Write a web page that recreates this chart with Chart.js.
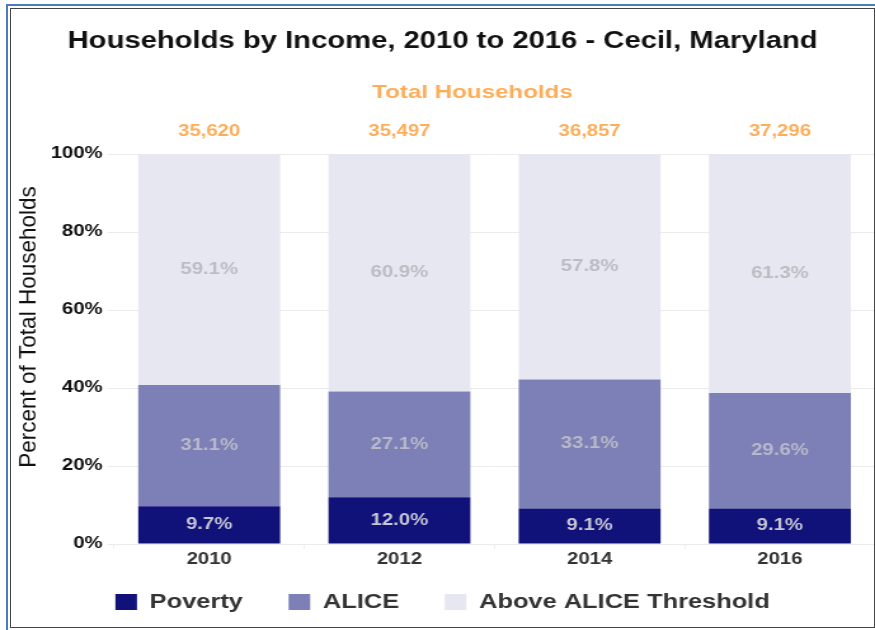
<!DOCTYPE html>
<html>
<head>
<meta charset="utf-8">
<script src="https://cdn.jsdelivr.net/npm/chart.js@4"></script>
<style>
  html, body { margin: 0; padding: 0; background: #fff; }
  #wrap { width: 875px; height: 630px; position: relative; overflow: hidden; }
  /* the source picture is stretched sideways, so the canvas is too */
  #incomeChart { position: absolute; left: 0; top: 0; width: 875px; height: 630px; }
  .frame-outer {
    position: absolute; left: 6px; top: 4px; width: 869px; height: 626px;
    box-sizing: border-box; border-left: 2px solid #4A7EBB; border-top: 2px solid #4A7EBB;
  }
  .frame-inner {
    position: absolute; left: 10px; top: 8px; width: 865px; height: 620px;
    box-sizing: border-box; border: 1px solid #444;
  }
</style>
</head>
<body>
<div id="wrap">
  <canvas id="incomeChart" width="689" height="630" style="width:875px;height:630px"></canvas>
  <div class="frame-outer"></div>
  <div class="frame-inner"></div>
</div>
<script>
// chart data
const years = ['2010', '2012', '2014', '2016'];
const totals = [35620, 35497, 36857, 37296];
const poverty = [9.7, 12.0, 9.1, 9.1];
const alice = [31.1, 27.1, 33.1, 29.6];
const aboveAlice = [59.1, 60.9, 57.8, 61.3];
const yTicks = [0, 20, 40, 60, 80, 100];

const FONT = '"Liberation Sans", Arial, sans-serif';
const STRETCH = 875 / 689;

// segment percentages, total households row and the y axis title
const labelPlugin = {
    id: 'barLabels',
    afterLayout(chart) {
        // pull the legend up closer to the year labels
        chart.legend.top -= 12;
        chart.legend.bottom -= 12;
    },
    afterDatasetsDraw(chart) {
        const ctx = chart.ctx;
        const area = chart.chartArea;
        const colors = ['#C6C6D4', '#B9B9C9', '#BCBCC3'];
        ctx.save();
        ctx.font = 'bold 16px ' + FONT;
        ctx.textAlign = 'center';
        ctx.textBaseline = 'middle';
        chart.data.datasets.forEach((ds, i) => {
            chart.getDatasetMeta(i).data.forEach((bar, j) => {
                ctx.fillStyle = colors[i];
                ctx.fillText(ds.data[j].toFixed(1) + '%', bar.x, (bar.y + bar.base) / 2);
            });
        });

        ctx.fillStyle = '#FDAD58';
        ctx.font = 'bold 16px ' + FONT;
        chart.getDatasetMeta(0).data.forEach((bar, j) => {
            ctx.fillText(totals[j].toLocaleString('en-US'), bar.x, area.top - 22);
        });
        ctx.font = 'bold 19px ' + FONT;
        ctx.fillText('Total Households', 372, 92.5);

        // y title, squeezed back so the css stretch leaves it upright
        ctx.fillStyle = '#111';
        ctx.font = '22.5px ' + FONT;
        ctx.translate(23, 327);
        ctx.rotate(-Math.PI / 2);
        ctx.scale(1, 1 / STRETCH);
        ctx.fillText('Percent of Total Households', 0, 0);
        ctx.restore();
    }
};

new Chart(document.getElementById('incomeChart'), {
    type: 'bar',
    data: {
        labels: years,
        datasets: [
            { label: 'Poverty', data: poverty, backgroundColor: '#11117A' },
            { label: 'ALICE', data: alice, backgroundColor: '#7C80B6' },
            { label: 'Above ALICE Threshold', data: aboveAlice, backgroundColor: '#E7E7F1' }
        ]
    },
    options: {
        responsive: false,
        animation: false,
        layout: { padding: { left: 8, right: 0, top: 0, bottom: -4 } },
        datasets: { bar: { categoryPercentage: 1, barPercentage: 0.746 } },
        plugins: {
            title: {
                display: true,
                text: 'Households by Income, 2010 to 2016 - Cecil, Maryland',
                color: '#111',
                font: { family: FONT, size: 23, weight: 'bold' },
                padding: { top: 28, bottom: 98.4 }
            },
            legend: {
                position: 'bottom',
                labels: {
                    color: '#333',
                    font: { family: FONT, size: 20, weight: 'bold' },
                    boxWidth: 17,
                    boxHeight: 16,
                    padding: 36
                }
            },
            tooltip: { enabled: false }
        },
        scales: {
            x: {
                stacked: true,
                grid: { display: true, drawOnChartArea: false, offset: true, tickLength: 5, color: '#EEEEEE' },
                border: { display: false },
                ticks: {
                    color: '#333',
                    font: { family: FONT, size: 16, weight: 'bold' },
                    padding: 1
                },
                afterFit(scale) { scale.height = 24; }
            },
            y: {
                stacked: true,
                min: 0,
                max: 100,
                afterBuildTicks(axis) {
                    axis.ticks = yTicks.map(v => ({ value: v }));
                },
                afterFit(scale) { scale.width = 81.8; },
                grid: { color: '#EBEBEB', tickLength: 5, tickColor: '#EBEBEB' },
                border: { display: false },
                ticks: {
                    color: '#111',
                    font: { family: FONT, size: 16, weight: 'bold' },
                    padding: 4,
                    callback: v => v + '%'
                }
            }
        }
    },
    plugins: [labelPlugin]
});
</script>
</body>
</html>
